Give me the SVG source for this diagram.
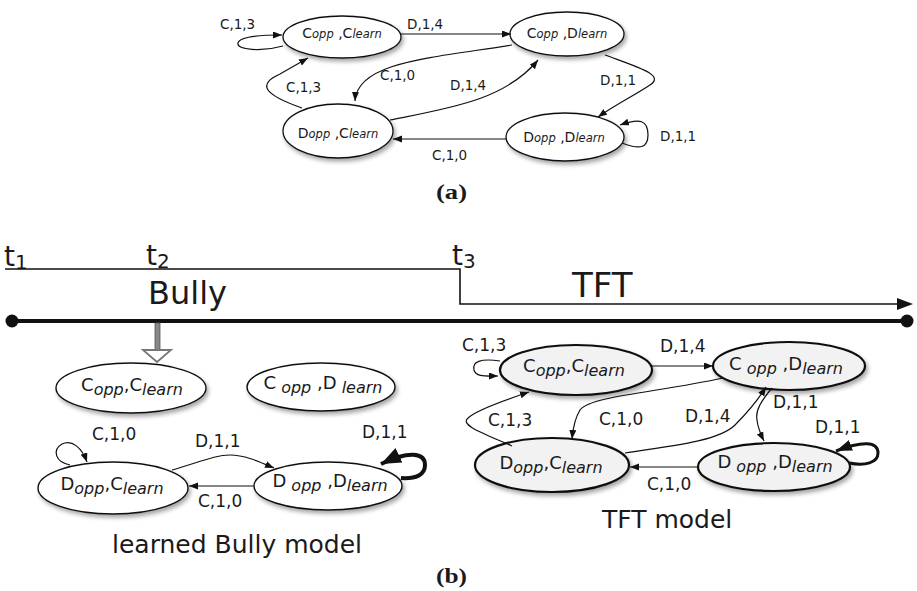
<svg xmlns="http://www.w3.org/2000/svg" width="917" height="591" viewBox="0 0 917 591">
<defs>
<marker id="ah" markerUnits="userSpaceOnUse" markerWidth="10" markerHeight="8" refX="9" refY="3.5" orient="auto"><path d="M0,0 L9,3.5 L0,7 z" fill="#111"/></marker>
<marker id="ahb" markerUnits="userSpaceOnUse" markerWidth="22" markerHeight="18" refX="20" refY="8" orient="auto"><path d="M0,0 L20,8 L0,16 z" fill="#111"/></marker>
<marker id="aht" markerUnits="userSpaceOnUse" markerWidth="18" markerHeight="12" refX="16" refY="5.5" orient="auto"><path d="M0,0 L16,5.5 L0,11 z" fill="#111"/></marker>
<filter id="sh" x="-20%" y="-20%" width="150%" height="160%"><feDropShadow dx="2" dy="3" stdDeviation="2" flood-color="#000" flood-opacity="0.35"/></filter>
<style>
text{font-family:"DejaVu Sans","Liberation Sans",Arial,sans-serif;fill:#1a1a1a}
.lbl{font-size:13.5px}
.lb2{font-size:17px}
.na{font-size:14px}
.nb{font-size:18px}
.it{font-style:italic}
.ea{fill:#fff;stroke:#111;stroke-width:1.3;filter:url(#sh)}
.eb{fill:#fff;stroke:#111;stroke-width:1.4;filter:url(#sh)}
.et{fill:#f2f2f2;stroke:#111;stroke-width:2.2;filter:url(#sh)}
.c{fill:none;stroke:#111;stroke-width:1.2}
.big{font-size:25px}
text.cap{font-family:"Liberation Serif","Times New Roman",serif;font-weight:bold;font-size:22px}
</style>
</defs>

<!-- (a) -->
<g id="a-CC"><ellipse class="ea" cx="342" cy="37" rx="59" ry="21"/>
<text class="na" x="342" y="38" text-anchor="middle">C<tspan class="it" font-size="11.5">opp</tspan> ,C<tspan class="it" font-size="11.5">learn</tspan></text></g>
<g id="a-CD"><ellipse class="ea" cx="567" cy="34" rx="57" ry="22"/>
<text class="na" x="567" y="38" text-anchor="middle">C<tspan class="it" font-size="11.5">opp</tspan> ,D<tspan class="it" font-size="11.5">learn</tspan></text></g>
<g id="a-DC"><ellipse class="ea" cx="338" cy="131" rx="55" ry="27"/>
<text class="na" x="338" y="138" text-anchor="middle">D<tspan class="it" font-size="11.5">opp</tspan> ,C<tspan class="it" font-size="11.5">learn</tspan></text></g>
<g id="a-DD"><ellipse class="ea" cx="565" cy="137" rx="59" ry="24"/>
<text class="na" x="564" y="142" text-anchor="middle">D<tspan class="it" font-size="11.5">opp</tspan> ,D<tspan class="it" font-size="11.5">learn</tspan></text></g>
<g id="a-edges">
<path class="c" d="M283,46 C262,52 236,50 238,43 C240,36 262,35 282,35" marker-end="url(#ah)"/>
<path class="c" d="M401,34 L511,34" marker-end="url(#ah)"/>
<path class="c" d="M512,45 C430,58 357,62 355,101" marker-end="url(#ah)"/>
<path class="c" d="M390,120 C450,108 505,100 538,60" marker-end="url(#ah)"/>
<path class="c" d="M302,108 C262,94 258,84 280,74 L308,58" marker-end="url(#ah)"/>
<path class="c" d="M605,55 C640,68 665,75 650,85 C635,95 615,105 598,117" marker-end="url(#ah)"/>
<path class="c" d="M622,143 C640,150 648,148 648,135 C648,120 640,118 620,125" marker-end="url(#ah)"/>
<path class="c" d="M506,139 L393,139" marker-end="url(#ah)"/>
<text class="lbl" x="220" y="29">C,1,3</text>
<text class="lbl" x="407" y="29">D,1,4</text>
<text class="lbl" x="380" y="80">C,1,0</text>
<text class="lbl" x="450" y="90">D,1,4</text>
<text class="lbl" x="286" y="92">C,1,3</text>
<text class="lbl" x="600" y="85">D,1,1</text>
<text class="lbl" x="660" y="141">D,1,1</text>
<text class="lbl" x="432" y="160">C,1,0</text>
</g>
<text class="cap" x="436" y="199" font-size="22" textLength="31" lengthAdjust="spacingAndGlyphs">(a)</text>

<!-- timeline -->
<g id="timeline">
<text font-size="28" x="4" y="266">t<tspan font-size="20" dy="3">1</tspan></text>
<text font-size="28" x="146" y="265">t<tspan font-size="20" dy="3">2</tspan></text>
<text font-size="28" x="452" y="265">t<tspan font-size="20" dy="3">3</tspan></text>
<path d="M5,269 L460,269 L460,304 L898,304" fill="none" stroke="#111" stroke-width="1.6"/>
<path d="M897,298 L913,304 L897,310 z" fill="#111"/>
<text font-size="32" x="148" y="304">Bully</text>
<text font-size="34" x="572" y="297">TFT</text>
<line x1="12" y1="321" x2="907" y2="321" stroke="#111" stroke-width="4"/>
<circle cx="12" cy="321" r="6.5" fill="#111"/>
<circle cx="907" cy="321" r="6.5" fill="#111"/>
<rect x="155" y="323" width="5" height="27" fill="#888" stroke="#555" stroke-width="0.8"/>
<path d="M143,350 L171,350 L157,362 z" fill="#fff" stroke="#777" stroke-width="1.8"/>
</g>

<!-- Bully model -->
<g id="b-CC"><ellipse class="eb" cx="131" cy="388" rx="75" ry="25"/>
<text class="nb" x="132" y="391" text-anchor="middle">C<tspan class="it" font-size="16" dy="4">opp</tspan><tspan dy="-4">,C</tspan><tspan class="it" font-size="16" dy="4">learn</tspan></text></g>
<g id="b-CD"><ellipse class="eb" cx="321" cy="387" rx="74" ry="24"/>
<text class="nb" x="323" y="389" text-anchor="middle">C<tspan class="it" font-size="16" dy="4"> opp</tspan><tspan dy="-4"> ,D</tspan><tspan class="it" font-size="16" dy="4"> learn</tspan></text></g>
<g id="b-DC"><ellipse class="eb" cx="113" cy="488" rx="75" ry="26"/>
<text class="nb" x="112" y="490" text-anchor="middle">D<tspan class="it" font-size="16" dy="4">opp</tspan><tspan dy="-4">,C</tspan><tspan class="it" font-size="16" dy="4">learn</tspan></text></g>
<g id="b-DD"><ellipse class="eb" cx="328" cy="486" rx="74" ry="24"/>
<text class="nb" x="330" y="487" text-anchor="middle">D<tspan class="it" font-size="16" dy="4"> opp</tspan><tspan dy="-4"> ,D</tspan><tspan class="it" font-size="16" dy="4">learn</tspan></text></g>
<g id="b-edges">
<path class="c" d="M70,465 C55,462 52,450 62,444 C72,439 82,448 87,462" marker-end="url(#ah)"/>
<path class="c" d="M172,470 C200,462 215,455 230,455 C245,455 260,462 274,468" marker-end="url(#ah)"/>
<path class="c" d="M254,486 L189,486" marker-end="url(#ah)"/>
<path d="M401,478 C416,479 425,475 425,465 C425,452 408,451 381,464" fill="none" stroke="#111" stroke-width="4" marker-end="url(#ahb)"/>
<text class="lb2" x="92" y="440">C,1,0</text>
<text class="lb2" x="195" y="447">D,1,1</text>
<text class="lb2" x="198" y="507">C,1,0</text>
<text class="lb2" x="362" y="438">D,1,1</text>
</g>
<text class="big" x="112" y="553">learned Bully model</text>

<!-- TFT model -->
<g id="t-CC"><ellipse class="et" cx="576" cy="370" rx="76" ry="25"/>
<text class="nb" x="574" y="372" text-anchor="middle">C<tspan class="it" font-size="16" dy="4">opp</tspan><tspan dy="-4">,C</tspan><tspan class="it" font-size="16" dy="4">learn</tspan></text></g>
<g id="t-CD"><ellipse class="et" cx="789" cy="366" rx="76" ry="24"/>
<text class="nb" x="786" y="370" text-anchor="middle">C<tspan class="it" font-size="16" dy="4"> opp</tspan><tspan dy="-4"> ,D</tspan><tspan class="it" font-size="16" dy="4">learn</tspan></text></g>
<g id="t-DC"><ellipse class="et" cx="552" cy="465" rx="77" ry="27"/>
<text class="nb" x="551" y="469" text-anchor="middle">D<tspan class="it" font-size="16" dy="4">opp</tspan><tspan dy="-4">,C</tspan><tspan class="it" font-size="16" dy="4">learn</tspan></text></g>
<g id="t-DD"><ellipse class="et" cx="774" cy="467" rx="76" ry="24"/>
<text class="nb" x="775" y="468" text-anchor="middle">D<tspan class="it" font-size="16" dy="4"> opp</tspan><tspan dy="-4"> ,D</tspan><tspan class="it" font-size="16" dy="4">learn</tspan></text></g>
<g id="t-edges">
<path class="c" d="M500,361 C480,358 472,362 474,370 C476,377 485,376 498,376" marker-end="url(#ah)"/>
<path class="c" d="M652,366 L713,366" marker-end="url(#ah)"/>
<path class="c" d="M723,378 C660,392 590,396 580,410 C575,418 573,428 572,439" marker-end="url(#ah)"/>
<path class="c" d="M625,453 C680,445 720,440 735,425 C750,410 758,400 766,387" marker-end="url(#ah)"/>
<path class="c" d="M512,446 C480,432 460,425 468,418 C476,410 505,400 529,392" marker-end="url(#ah)"/>
<path class="c" d="M772,388 C762,400 755,410 757,420 C758,428 760,433 764,441" marker-end="url(#ah)"/>
<path d="M849,463 C865,466 878,463 878,453 C878,441 862,441 836,451" fill="none" stroke="#111" stroke-width="3" marker-end="url(#aht)"/>
<path class="c" d="M698,467 L630,467" marker-end="url(#ah)"/>
<text class="lb2" x="462" y="351">C,1,3</text>
<text class="lb2" x="660" y="352">D,1,4</text>
<text class="lb2" x="599" y="425">C,1,0</text>
<text class="lb2" x="685" y="422">D,1,4</text>
<text class="lb2" x="488" y="426">C,1,3</text>
<text class="lb2" x="773" y="408">D,1,1</text>
<text class="lb2" x="815" y="433">D,1,1</text>
<text class="lb2" x="647" y="490">C,1,0</text>
</g>
<text class="big" x="602" y="528">TFT model</text>
<text class="cap" x="436" y="583" font-size="22" textLength="31" lengthAdjust="spacingAndGlyphs">(b)</text>
</svg>
